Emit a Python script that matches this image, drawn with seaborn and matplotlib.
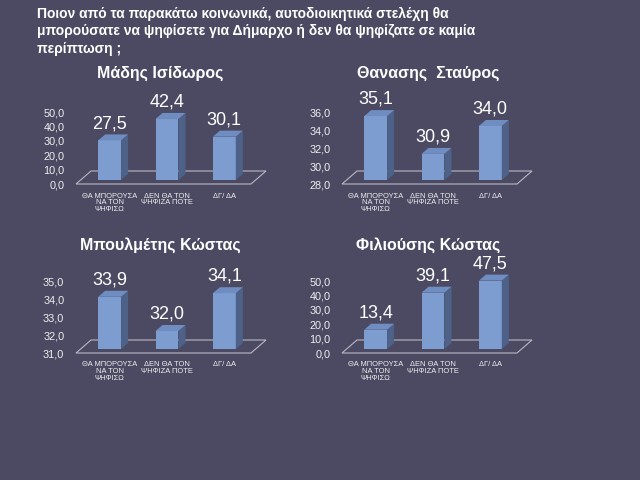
import numpy as np
import pandas as pd
import matplotlib
matplotlib.use("Agg")
import matplotlib.pyplot as plt
from matplotlib.patches import Polygon
from matplotlib.transforms import IdentityTransform, ScaledTranslation
from matplotlib.ticker import FuncFormatter
import seaborn as sns

# data
categories = ["ΘΑ ΜΠΟΡΟΥΣΑ\nΝΑ ΤΟΝ\nΨΗΦΙΣΩ", "ΔΕΝ ΘΑ ΤΟΝ\nΨΗΦΙΖΑ ΠΟΤΕ", "ΔΓ/ ΔΑ"]
names = ["Μάδης Ισίδωρος", "Θανασης  Σταύρος", "Μπουλμέτης Κώστας", "Φιλιούσης Κώστας"]
madis = [27.5, 42.4, 30.1]
thanasis = [35.1, 30.9, 34.0]
boulmetis = [33.9, 32.0, 34.1]
filiousis = [13.4, 39.1, 47.5]
series = [madis, thanasis, boulmetis, filiousis]
yticks = [np.arange(0, 51, 10), np.arange(28, 37, 2), np.arange(31, 36, 1), np.arange(0, 51, 10)]

title = ("Ποιον από τα παρακάτω κοινωνικά, αυτοδιοικητικά στελέχη θα\n"
         "μπορούσατε να ψηφίσετε για Δήμαρχο ή δεν θα ψηφίζατε σε καμία\n"
         "περίπτωση ;")

bg = "#4b4a62"
front = "#7d9ccf"
top_c = "#6f8dc0"
side_c = "#4e6289"

sns.set_theme(style="white")
plt.rcParams['font.family'] = ['Liberation Sans', 'DejaVu Sans']

fig = plt.figure(figsize=(6.4, 4.8), dpi=100, facecolor=bg)

# axes positions in pixels: left, bottom(from top)
panels = [(81, 180), (347, 180), (81, 349), (347, 349)]
title_pos = [(160, 73), (428, 73), (160, 245), (428, 245)]
W, H = 640, 480
dx, dy = 7, 6  # bar depth in px


def comma(v, pos):
    return f"{v:.1f}".replace(".", ",")


for i, (vals, ticks) in enumerate(zip(series, yticks)):
    left, bottom = panels[i]
    ax = fig.add_axes([left / W, (H - bottom) / H, 172 / W, 72 / H])
    ax.set_facecolor("none")
    df = pd.DataFrame({"cat": categories, "val": vals})
    sns.barplot(data=df, x="cat", y="val", color=front, saturation=1,
                width=0.4, ax=ax, zorder=3, edgecolor="none", linewidth=0)
    ax.set_ylim(ticks[0], ticks[-1])
    ax.set_xlim(-0.5, 2.5)
    ax.set_yticks(ticks)
    ax.yaxis.set_major_formatter(FuncFormatter(comma))
    ax.set_xlabel("")
    ax.set_ylabel("")
    sns.despine(ax=ax, left=True, bottom=True)
    ax.tick_params(axis="y", length=0, pad=12, labelsize=7.8, labelcolor="#eeeeee")
    ax.tick_params(axis="x", length=0, pad=9, labelsize=5.4, labelcolor="#eeeeee")
    shift = ScaledTranslation(0, -3 / 72, fig.dpi_scale_trans)
    for lab in ax.get_yticklabels():
        lab.set_transform(lab.get_transform() + shift)
    for lab in ax.get_xticklabels():
        lab.set_linespacing(0.95)

    ymin = ticks[0]
    # floor parallelogram
    x0d, y0d = ax.transAxes.transform((0, 0))
    x1d, _ = ax.transAxes.transform((1, 0))
    fl = [(x0d - 5, y0d - 4), (x1d - 2, y0d - 4), (x1d + 13, y0d + 9), (x0d + 10, y0d + 9)]
    ax.add_patch(Polygon(fl, closed=True, fill=False, edgecolor="#b8b8c4",
                         linewidth=0.8, transform=IdentityTransform(),
                         clip_on=False, zorder=1))

    # 3d faces on every bar
    for p, v in zip(ax.patches, vals):
        bx0 = p.get_x()
        bx1 = bx0 + p.get_width()
        (a0, b0) = ax.transData.transform((bx0, max(ymin, 0)))
        (a1, b1) = ax.transData.transform((bx1, v))
        b0 = max(b0, y0d)
        top = [(a0, b1), (a1, b1), (a1 + dx, b1 + dy), (a0 + dx, b1 + dy)]
        side = [(a1, b0), (a1 + dx, b0 + dy), (a1 + dx, b1 + dy), (a1, b1)]
        ax.add_patch(Polygon(side, closed=True, facecolor=side_c, edgecolor="none",
                             transform=IdentityTransform(), clip_on=False, zorder=3))
        ax.add_patch(Polygon(top, closed=True, facecolor=top_c, edgecolor="none",
                             transform=IdentityTransform(), clip_on=False, zorder=3))
        ax.annotate(comma(v, None), xy=((bx0 + bx1) / 2, v), xytext=(0, 6),
                    textcoords="offset points", ha="center", va="bottom",
                    fontsize=13, color="white", annotation_clip=False)

    tx, ty = title_pos[i]
    fig.text(tx / W, 1 - ty / H, names[i], ha="center", va="center",
             fontsize=11.5, fontweight="bold", color="white")

fig.text(37 / W, 1 - 7 / H, title, ha="left", va="top", fontsize=10,
         fontweight="bold", color="white", linespacing=1.3)

fig.savefig("out.png", dpi=100, facecolor=bg)
